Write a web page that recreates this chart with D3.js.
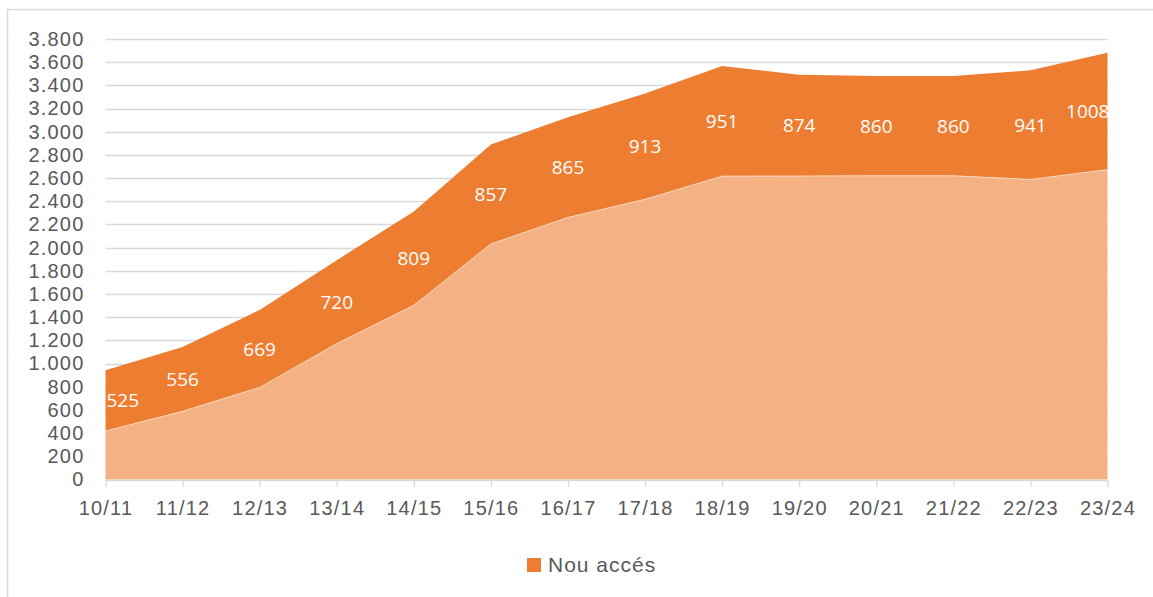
<!DOCTYPE html>
<html>
<head>
<meta charset="utf-8">
<script src="https://cdn.jsdelivr.net/npm/d3@7"></script>
<style>
  html, body { margin: 0; padding: 0; background: #fff; }
  svg { display: block; }
</style>
</head>
<body>
<svg width="1153" height="597"></svg>
<script>
const width = 1153, height = 597;

// categories (school years)
const years = ["10/11", "11/12", "12/13", "13/14", "14/15", "15/16", "16/17",
               "17/18", "18/19", "19/20", "20/21", "21/22", "22/23", "23/24"];
// lower band (no legend entry in the original)
const continuing = [418, 588, 794, 1172, 1503, 2032, 2261, 2417, 2617, 2618, 2620, 2620, 2589, 2673];
// "Nou accés" band, stacked on top
const newAccess = [525, 556, 669, 720, 809, 857, 865, 913, 951, 874, 860, 860, 941, 1008];
const yTicks = [0, 200, 400, 600, 800, 1000, 1200, 1400, 1600, 1800, 2000, 2200,
                2400, 2600, 2800, 3000, 3200, 3400, 3600, 3800];

let plot = { left: 105.5, right: 1107.5, top: 39, bottom: 479.5 };

const svg = d3.select("svg");

// frame of the chart object (only left and top edges visible)
svg.append("path")
  .attr("d", `M7.5,${height} V9.5 H${width}`)
  .attr("fill", "none")
  .attr("stroke", "#d9d9d9")
  .attr("stroke-width", 1.5);

const x = d3.scalePoint().domain(years).range([plot.left, plot.right]);
const y = d3.scaleLinear().domain([0, 3800]).range([plot.bottom, plot.top]);

const rows = years.map((yr, i) => ({ year: yr, base: continuing[i], nou: newAccess[i] }));
const series = d3.stack().keys(["base", "nou"])(rows);

// gridlines
svg.append("g")
  .selectAll("line")
  .data(yTicks.filter(d => d > 0))
  .enter().append("line")
  .attr("x1", plot.left).attr("x2", plot.right)
  .attr("y1", d => Math.round(y(d)) + 0.5).attr("y2", d => Math.round(y(d)) + 0.5)
  .attr("stroke", "#d9d9d9")
  .attr("stroke-width", 1.3);

const area = d3.area()
  .x(d => x(d.data.year))
  .y0(d => y(d[0]))
  .y1(d => y(d[1]));

const colors = { base: "#f4b183", nou: "#ed7d31" };

svg.append("g")
  .selectAll("path")
  .data(series)
  .enter().append("path")
  .attr("d", area)
  .attr("fill", d => colors[d.key]);

// thin light seam between the two bands
svg.append("path")
  .datum(series[0])
  .attr("d", d3.line().x(d => x(d.data.year)).y(d => y(d[1])))
  .attr("fill", "none")
  .attr("stroke", "#fbe3d3")
  .attr("stroke-width", 0.8);

// x axis line + ticks
const xAxis = svg.append("g").attr("transform", `translate(0, ${plot.bottom + 0.5})`)
  .call(d3.axisBottom(x).tickSize(7).tickSizeOuter(0).tickPadding(14));
xAxis.select(".domain").attr("stroke", "#d9d9d9").attr("stroke-width", 1.5);
xAxis.selectAll(".tick line").attr("stroke", "#d9d9d9").attr("stroke-width", 1.3);
xAxis.selectAll(".tick text")
  .attr("fill", "#595959")
  .attr("font-family", "'Liberation Sans', Arial, sans-serif")
  .attr("font-size", "20px")
  .attr("letter-spacing", "1.2px");

// y axis labels only
const yAxis = svg.append("g").attr("transform", `translate(${plot.left}, 0)`)
  .call(d3.axisLeft(y).tickValues(yTicks).tickSize(0).tickPadding(21)
    .tickFormat(d => d3.format(",")(d).replace(/,/g, ".")));
yAxis.select(".domain").remove();
yAxis.selectAll(".tick text")
  .attr("fill", "#595959")
  .attr("font-family", "'Liberation Sans', Arial, sans-serif")
  .attr("font-size", "20px")
  .attr("letter-spacing", "1.2px");

// data labels for "Nou accés"
svg.append("clipPath").attr("id", "plotClip")
  .append("rect")
  .attr("x", plot.left).attr("y", 0)
  .attr("width", plot.right - plot.left + 0.5).attr("height", height);

const last = years.length - 1;
svg.append("g")
  .attr("clip-path", "url(#plotClip)")
  .selectAll("text")
  .data(series[1])
  .enter().append("text")
  .attr("x", (d, i) => i === 0 ? x(d.data.year) + 1 : i === last ? x(d.data.year) + 2 : x(d.data.year))
  .attr("y", d => y((d[0] + d[1]) / 2))
  .attr("dy", "0.36em")
  .attr("text-anchor", (d, i) => i === 0 ? "start" : i === last ? "end" : "middle")
  .attr("fill", "#ffffff")
  .attr("font-family", "'Open Sans', sans-serif")
  .attr("font-size", "19px")
  .text(d => d.data.nou);

// legend
const legend = svg.append("g").attr("transform", "translate(527, 558)");
legend.append("rect").attr("width", 14).attr("height", 14).attr("fill", colors.nou);
legend.append("text")
  .attr("x", 21).attr("y", 13.5)
  .attr("fill", "#595959")
  .attr("font-family", "'Liberation Sans', Arial, sans-serif")
  .attr("font-size", "21px")
  .attr("letter-spacing", "1px")
  .text("Nou accés");
</script>
</body>
</html>
